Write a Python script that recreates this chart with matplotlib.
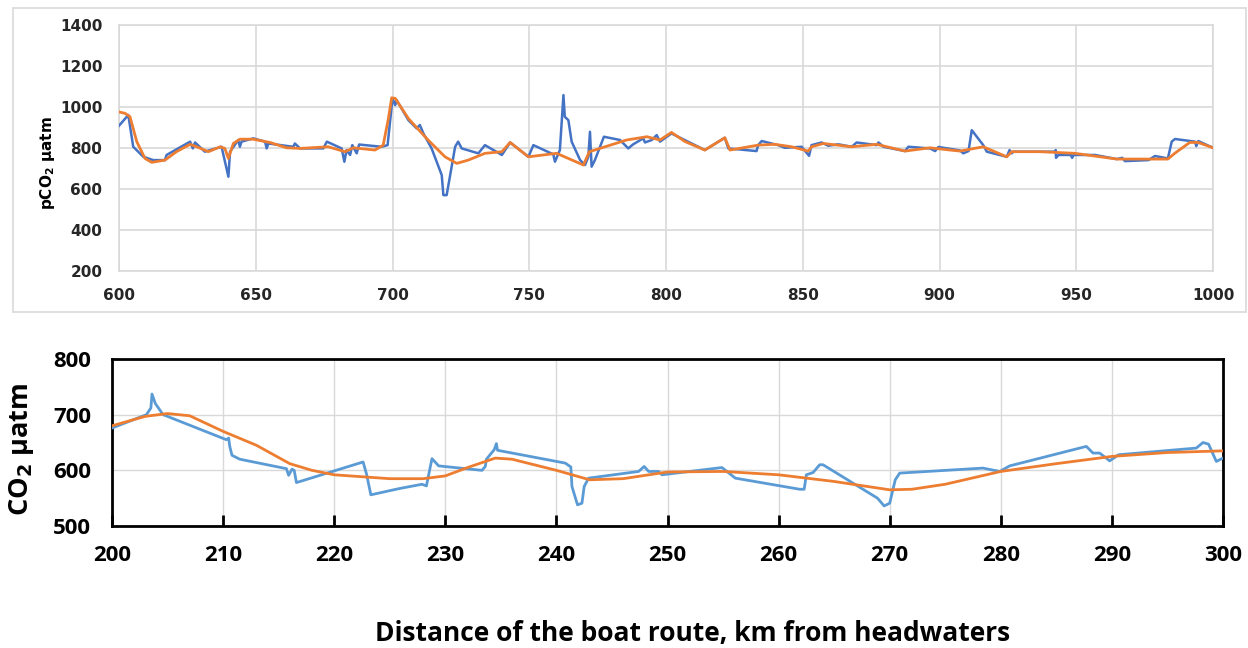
import numpy as np
import matplotlib
matplotlib.use('Agg')
import matplotlib.pyplot as plt
from matplotlib.patches import Rectangle

# --- Top panel: 600-1000 km, measured (blue) and smoothed (orange) ---
top_km = [599.7, 603.4, 605.2, 608.9, 612.5, 616.8, 617.4, 626, 627, 627.8, 631.4, 633.3,
          637.5, 640, 640.6, 643.6, 644.2, 644.8, 649.1, 653.4, 654, 654.6, 663.7, 664.3,
          666.2, 674.7, 676, 681.4, 682.4, 683.2, 684.5, 685.3, 686.9, 687.8, 696, 698.2,
          700, 701, 701.5, 705.8, 708.8, 710, 711.3, 714.3, 718, 718.6, 719.8, 722.9, 724,
          725.3, 731.4, 733.8, 740, 743, 749.7, 751.5, 758.8, 759.4, 761.2, 762.5, 763,
          764.3, 765.5, 768.6, 770.4, 771.6, 772.2, 772.8, 774, 777.3, 783.2, 786.2, 788,
          791.7, 792.3, 794.8, 796.6, 797.8, 801.5, 802, 814.2, 821.5, 822.8, 833.1, 833.7,
          835, 841, 843.5, 849.6, 852.3, 853.2, 856.9, 859.3, 863, 867.9, 869.7, 877,
          877.7, 879.5, 887.4, 888.6, 896.5, 898.4, 899.6, 907.5, 908.7, 910.6, 911.8, 916,
          917.3, 924.6, 925.6, 926.4, 927, 942.2, 942.5, 942.6, 943.5, 948, 948.5, 949,
          956.9, 964.8, 966.8, 967.8, 976.4, 978.8, 983.5, 984.9, 986.1, 993.4, 993.9,
          994.6, 1000]
top_pco2 = [904, 961, 806, 757, 741, 741, 766, 831, 798, 827, 782, 790,
            806, 660, 782, 839, 806, 831, 847, 831, 798, 822, 806, 822,
            798, 798, 831, 798, 733, 790, 766, 814, 774, 817, 806, 814,
            1042, 1009, 1034, 936, 896, 912, 871, 798, 668, 570, 570, 806, 831,
            798, 774, 814, 766, 827, 757, 814, 769, 733, 790, 1058, 952,
            936, 831, 741, 717, 757, 879, 709, 741, 855, 839, 798, 818,
            847, 827, 839, 863, 831, 866, 871, 790, 850, 798, 785, 814,
            834, 814, 801, 806, 762, 814, 827, 811, 818, 806, 827, 814,
            827, 806, 785, 806, 798, 785, 805, 788, 774, 785, 887, 814,
            782, 757, 790, 774, 782, 782, 790, 752, 766, 766, 752, 766,
            766, 746, 752, 736, 741, 761, 749, 831, 844, 831, 809,
            834, 801]

top_fit_km = [599.7, 602.2, 604, 606.5, 609.5, 612, 616.8, 621, 626, 628.4, 632.7, 637,
              638.7, 640, 641.8, 644.2, 649, 655.2, 661.3, 666.2, 676.5, 682.6, 685.7,
              693.6, 696.6, 698.5, 699.7, 701, 705.8, 713, 719.2, 723.5, 727.7, 733.8,
              740, 743, 749.7, 760, 769.8, 772, 785.6, 793, 797.8, 802, 807, 814.2, 821.5,
              823.4, 833.7, 839.8, 845.9, 852, 853.2, 857.5, 867.9, 877, 887.4, 896.5,
              903.9, 907.5, 916, 924.6, 926.4, 936.8, 949.5, 964.8, 983.5, 986, 991.5,
              994.6, 1000]
top_fit_pco2 = [977, 969, 953, 831, 749, 730, 741, 782, 818, 806, 782, 806,
                798, 749, 822, 843, 843, 827, 801, 798, 806, 782, 801,
                790, 814, 944, 1045, 1042, 944, 839, 757, 725, 741, 774,
                782, 827, 757, 774, 717, 782, 839, 855, 839, 876, 831, 790, 850,
                790, 814, 818, 806, 785, 806, 822, 806, 818, 785, 801,
                790, 785, 806, 757, 782, 782, 774, 746, 746, 774, 827,
                827, 801]

# --- Bottom panel: 200-300 km ---
bot_km = [200, 203.1, 203.5, 203.6, 203.9, 204.6, 210.3, 210.5, 210.6, 210.8, 211.5, 215.7,
          215.9, 216.2, 216.4, 216.6, 222.6, 222.9, 223.3, 225.8, 227.9, 228.3, 228.8,
          229.4, 233.3, 233.6, 233.7, 234.4, 234.6, 234.7, 240.8, 241.3, 241.4, 241.9,
          242.3, 242.5, 242.9, 247.4, 247.9, 248.3, 249.2, 249.5, 254.9, 256.1, 261.9,
          262.3, 262.5, 263.1, 263.7, 264, 268.9, 269.5, 270, 270.5, 270.9, 278.4, 279.9,
          280.8, 287.7, 288.3, 288.9, 289.8, 290.6, 297.6, 298.2, 298.7, 299.4, 300]
bot_co2 = [676, 700, 712, 737, 720, 700, 655, 658, 643, 627, 620, 603,
           591, 602, 600, 578, 615, 594, 556, 567, 575, 572, 621,
           608, 600, 607, 620, 637, 648, 636, 613, 606, 571, 538,
           541, 571, 586, 598, 607, 598, 598, 592, 605, 586, 566,
           566, 592, 596, 610, 610, 550, 536, 541, 583, 595, 604, 598,
           608, 643, 631, 631, 617, 628, 640, 650, 647, 616, 622]

bot_fit_km = [200, 203, 205, 207, 210, 213, 216, 218, 220, 225, 228, 230, 232, 234.5, 236,
              240, 243, 246, 250, 255, 260, 265, 270, 272, 275, 280, 285, 290, 295, 300]
bot_fit_co2 = [680, 697, 702, 698, 670, 645, 612, 600, 592, 585, 585, 590, 605, 622, 620,
               600, 583, 585, 597, 598, 592, 580, 565, 566, 575, 598, 612, 625, 632, 635]

BLUE_TOP = '#4472C4'
BLUE_BOT = '#5B9BD5'
ORANGE = '#ED7D31'
GRID = '#D9D9D9'
FAM = ['Open Sans', 'DejaVu Sans']

fig = plt.figure(figsize=(12.48, 6.48), dpi=100)

# light border round the top (Excel-style) chart
fig.patches.append(Rectangle((13 / 1248, 1 - 312 / 648), 1233 / 1248, 304 / 648,
                             transform=fig.transFigure, fill=False,
                             edgecolor=GRID, linewidth=1.2))

# --- top chart ---
ax1 = fig.add_axes([119 / 1248, 1 - 271 / 648, 1094 / 1248, 246 / 648])
ax1.plot(top_km, top_pco2, color=BLUE_TOP, linewidth=1.8, zorder=3)
ax1.plot(top_fit_km, top_fit_pco2, color=ORANGE, linewidth=2.0, zorder=4)
ax1.set_xlim(600, 1000)
ax1.set_ylim(200, 1400)
ax1.set_xticks(np.arange(600, 1001, 50))
ax1.set_yticks(np.arange(200, 1401, 200))
ax1.grid(True, color=GRID, linewidth=1.2)
ax1.set_axisbelow(True)
for s in ax1.spines.values():
    s.set_color(GRID)
    s.set_linewidth(1.2)
ax1.tick_params(length=0, labelsize=11, pad=12, colors='#262626')
for lab in ax1.get_xticklabels() + ax1.get_yticklabels():
    lab.set_fontweight('bold')
ax1.set_ylabel(r'pCO$_\mathbf{2}$ µatm', fontsize=11, fontweight='bold')
ax1.yaxis.set_label_coords(-0.057, 0.44)

# --- bottom chart ---
ax2 = fig.add_axes([112 / 1248, 1 - 526 / 648, 1111 / 1248, 167 / 648])
ax2.plot(bot_km, bot_co2, color=BLUE_BOT, linewidth=2.0, zorder=3)
ax2.plot(bot_fit_km, bot_fit_co2, color=ORANGE, linewidth=2.0, zorder=4)
ax2.set_xlim(200, 300)
ax2.set_ylim(500, 800)
ax2.set_xticks(np.arange(200, 301, 10))
ax2.set_yticks(np.arange(500, 801, 100))
ax2.grid(True, color=GRID, linewidth=1.0)
ax2.set_axisbelow(True)
for s in ax2.spines.values():
    s.set_color('black')
    s.set_linewidth(2.0)
ax2.tick_params(axis='x', direction='in', length=8, width=2, pad=14)
ax2.tick_params(axis='y', length=0, pad=15)
for lab in ax2.get_xticklabels() + ax2.get_yticklabels():
    lab.set_fontweight('bold')
    lab.set_fontsize(16)
    lab.set_family(FAM)
ax2.set_ylabel(r'CO$_\mathbf{2}$ µatm', fontsize=19.5, fontweight='bold', family=FAM)
ax2.yaxis.set_label_coords(-0.068, 0.455)

fig.text(693 / 1248, 1 - 633 / 648, 'Distance of the boat route, km from headwaters',
         ha='center', va='center', fontsize=19, fontweight='bold', family=FAM)

fig.savefig('out.png', dpi=100)
